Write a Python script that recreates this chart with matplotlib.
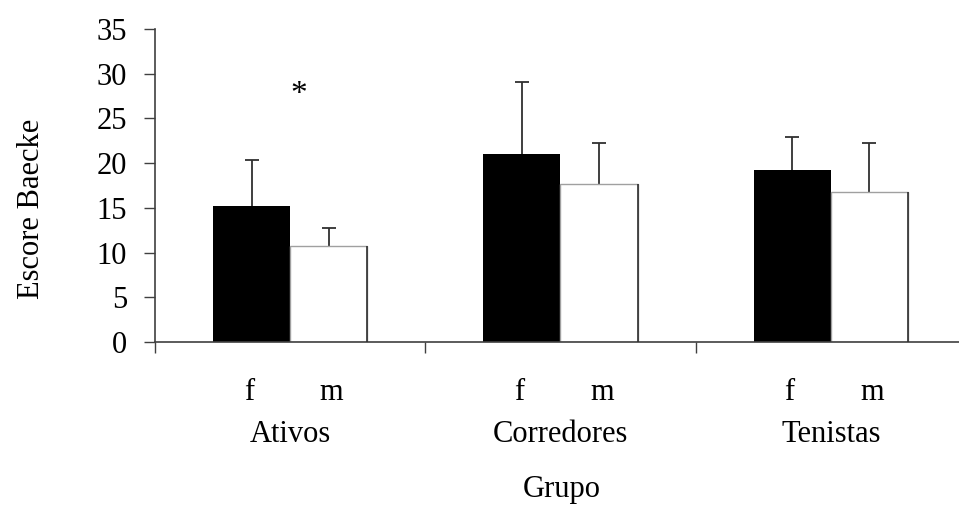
import numpy as np
import matplotlib.pyplot as plt

plt.rcParams['font.family'] = ['Liberation Serif', 'DejaVu Serif']
plt.rcParams['font.size'] = 22

grupos = ["Ativos", "Corredores", "Tenistas"]
sexo = ["f", "m"]
media_f = [15.2, 21.0, 19.2]
media_m = [10.7, 17.7, 16.8]
dp_f = [5.2, 8.1, 3.7]
dp_m = [2.1, 4.5, 5.4]

W, H = 959, 505
fig = plt.figure(figsize=(W / 100, H / 100), dpi=100)
ax = fig.add_axes([155 / W, (H - 342) / H, (966 - 155) / W, (342 - 29) / H])

x = np.arange(len(grupos))
larg = 0.285
ax.bar(x - larg / 2, media_f, larg, color="black", zorder=2)
ax.bar(x + larg / 2, media_m, larg, color="white", edgecolor="#a0a0a0", linewidth=1, zorder=2)
# lado direito da barra branca mais escuro
for xi, m in zip(x, media_m):
    ax.vlines(xi + larg, 0, m, color="#303030", linewidth=1.2, zorder=3)

for xs, med, dp in [(x - larg / 2, media_f, dp_f), (x + larg / 2, media_m, dp_m)]:
    eb = ax.errorbar(xs, med, yerr=[np.zeros(3), dp], fmt="none",
                     ecolor="#303030", elinewidth=1.3, capsize=5, capthick=1.3, zorder=1)
    eb[1][0].set_visible(False)  # sem traço inferior

ax.text(0.03, 27.6, "*", ha="center", va="center", fontsize=24)

ax.set_xlim(-0.5, 2.5)
ax.set_ylim(0, 35)
ax.set_yticks(np.arange(0, 36, 5))
ax.set_xticks(np.arange(-0.5, 3, 1))
ax.set_xticklabels([])
ax.tick_params(axis="both", direction="out", length=8, width=1, color="#404040")
ax.tick_params(axis="y", pad=12)
for s in ["top", "right"]:
    ax.spines[s].set_visible(False)
for s in ["left", "bottom"]:
    ax.spines[s].set_color("#404040")
    ax.spines[s].set_linewidth(1.2)

for xi, g in zip(x, grupos):
    for off, s in zip([-larg / 2 - 0.01, larg / 2 + 0.01], sexo):
        ax.annotate(s, xy=(xi + off, 0), xycoords=("data", "axes fraction"),
                    xytext=(0, -51), textcoords="offset pixels", ha="center", va="center")
    ax.annotate(g, xy=(xi, 0), xycoords=("data", "axes fraction"),
                xytext=(0, -93), textcoords="offset pixels", ha="center", va="center")

fig.text(562 / W, 1 - 490 / H, "Grupo", ha="center", va="center")
fig.text(32 / W, 1 - 209 / H, "Escore Baecke", ha="center", va="center", rotation=90)

fig.savefig("out.png", dpi=100)
